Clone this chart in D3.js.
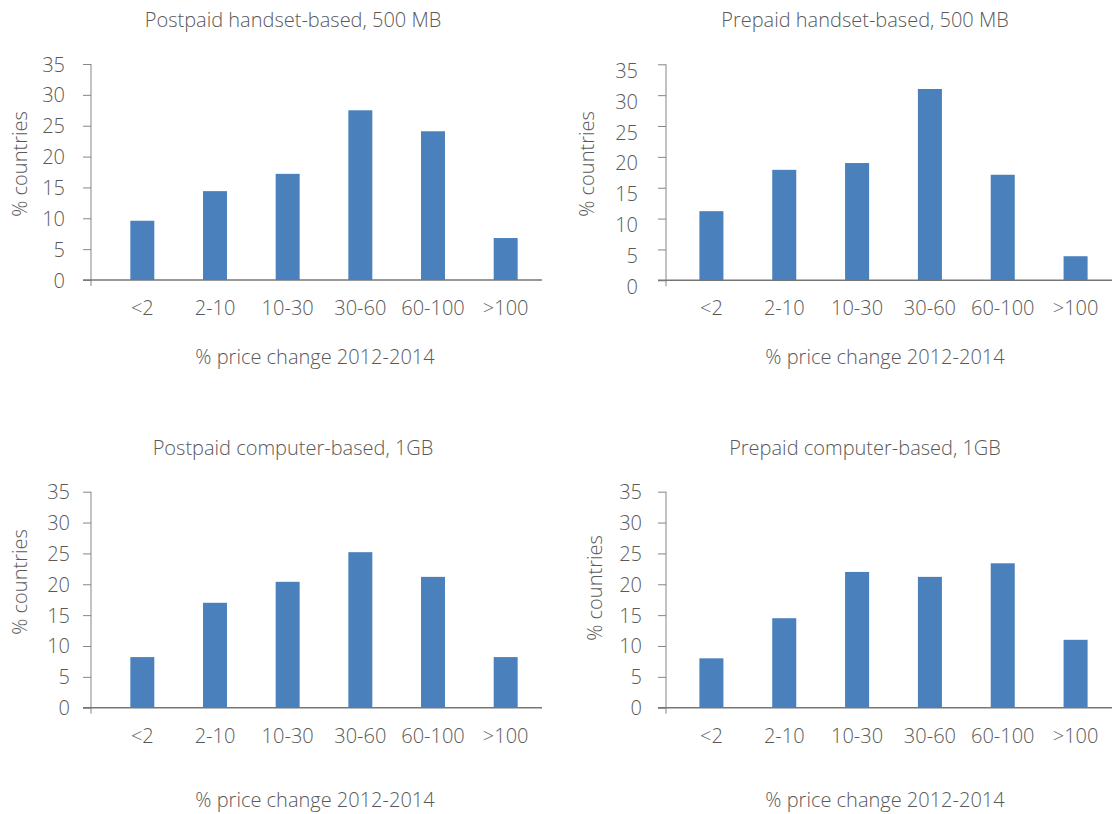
<!DOCTYPE html>
<html>
<head>
<meta charset="utf-8">
<script src="https://cdn.jsdelivr.net/npm/d3@7"></script>
<style>
  html, body { margin: 0; padding: 0; background: #fff; }
  svg { display: block; font-family: "Open Sans", "Segoe UI", sans-serif; font-weight: 300; }
</style>
</head>
<body>
<svg id="chart" width="1113" height="814"></svg>
<script>
// Price-change buckets (x categories) shared by all four panels
const categories = ["<2", "2-10", "10-30", "30-60", "60-100", ">100"];

// Share of countries per bucket, one array per plan type
const postpaidHandset500MB = [9.6, 14.4, 17.2, 27.5, 24.1, 6.8];
const prepaidHandset500MB  = [11.2, 17.9, 19.0, 31.0, 17.1, 3.9];
const postpaidComputer1GB  = [8.2, 17.0, 20.4, 25.2, 21.2, 8.2];
const prepaidComputer1GB   = [8.0, 14.5, 22.0, 21.2, 23.4, 11.0];

// Value axis ticks
const yTicks = [0, 5, 10, 15, 20, 25, 30, 35];

const panelTitles = [
  "Postpaid handset-based, 500 MB",
  "Prepaid handset-based, 500 MB",
  "Postpaid computer-based, 1GB",
  "Prepaid computer-based, 1GB"
];
const yTitle = "% countries";
const xTitle = "% price change 2012-2014";

// Panel geometry
const panels = [
  { title: panelTitles[0], values: postpaidHandset500MB, axisX: 91,  x0: 106, x1: 542,  y0: 280,   y1: 64,    tickGap: 26, labelDy: 0, titleX: 293, titleY: 20,  xTitleX: 315, xTitleY: 357, yTitleX: 20,  yTitleY: 164 },
  { title: panelTitles[1], values: prepaidHandset500MB,  axisX: 666, x0: 675, x1: 1112, y0: 280.3, y1: 64.3,  tickGap: 28, labelDy: 6, titleX: 865, titleY: 20,  xTitleX: 885, xTitleY: 357, yTitleX: 587, yTitleY: 164 },
  { title: panelTitles[2], values: postpaidComputer1GB,  axisX: 91,  x0: 106, x1: 542,  y0: 707.7, y1: 491.7, tickGap: 21, labelDy: 0, titleX: 293, titleY: 448, xTitleX: 315, xTitleY: 800, yTitleX: 20,  yTitleY: 582 },
  { title: panelTitles[3], values: prepaidComputer1GB,   axisX: 666, x0: 675, x1: 1112, y0: 707.7, y1: 491.7, tickGap: 24, labelDy: 0, titleX: 865, titleY: 448, xTitleX: 885, xTitleY: 800, yTitleX: 595, yTitleY: 588 }
];

const fontSize = 20;
const textColor = "#595959";
const barColor = "#4A81BD";
const axisColor = "#868686";

const svg = d3.select("#chart");

panels.forEach(p => {
  const g = svg.append("g");

  const x = d3.scaleBand()
    .domain(categories)
    .range([p.x0, p.x1])
    .paddingInner(0.67)
    .paddingOuter(0.335);

  const y = d3.scaleLinear()
    .domain([0, 35])
    .range([p.y0, p.y1]);

  // Bars
  g.selectAll("rect.bar")
    .data(p.values)
    .join("rect")
    .attr("class", "bar")
    .attr("x", (d, i) => x(categories[i]))
    .attr("width", x.bandwidth())
    .attr("y", d => y(d))
    .attr("height", d => y(0) - y(d))
    .attr("fill", barColor);

  // Value axis
  const yAxis = d3.axisLeft(y)
    .tickValues(yTicks)
    .tickSize(8)
    .tickPadding(p.tickGap - 8)
    .tickFormat(d3.format("d"));

  const ya = g.append("g")
    .attr("transform", `translate(${p.axisX},0)`)
    .call(yAxis)
    .attr("font-family", null)
    .attr("font-size", fontSize);
  ya.select(".domain").remove();
  ya.selectAll(".tick line").attr("stroke", axisColor);
  ya.selectAll(".tick text")
    .attr("dy", "0.35em")
    .attr("transform", `translate(0,${p.labelDy})`)
    .attr("fill", textColor);

  // Vertical axis line, running a little below the baseline
  g.append("line")
    .attr("x1", p.axisX).attr("x2", p.axisX)
    .attr("y1", y(35)).attr("y2", y(0) + 6)
    .attr("stroke", axisColor).attr("stroke-width", 1);

  // Category axis
  const xAxis = d3.axisBottom(x).tickSize(0).tickPadding(21);
  const xa = g.append("g")
    .attr("transform", `translate(0,${p.y0})`)
    .call(xAxis)
    .attr("font-family", null)
    .attr("font-size", fontSize);
  xa.select(".domain").remove();
  xa.selectAll(".tick text").attr("fill", textColor);

  g.append("line")
    .attr("x1", p.axisX - 8).attr("x2", p.x1)
    .attr("y1", p.y0).attr("y2", p.y0)
    .attr("stroke", "#767676").attr("stroke-width", 1.5);

  // Titles
  g.append("text")
    .attr("x", p.titleX).attr("y", p.titleY)
    .attr("dy", "0.35em")
    .attr("text-anchor", "middle")
    .attr("font-size", fontSize)
    .attr("fill", textColor)
    .text(p.title);

  g.append("text")
    .attr("x", p.xTitleX).attr("y", p.xTitleY)
    .attr("dy", "0.35em")
    .attr("text-anchor", "middle")
    .attr("font-size", fontSize)
    .attr("fill", textColor)
    .text(xTitle);

  g.append("text")
    .attr("transform", `translate(${p.yTitleX},${p.yTitleY}) rotate(-90)`)
    .attr("dy", "0.35em")
    .attr("text-anchor", "middle")
    .attr("font-size", fontSize)
    .attr("fill", textColor)
    .text(yTitle);
});
</script>
</body>
</html>
